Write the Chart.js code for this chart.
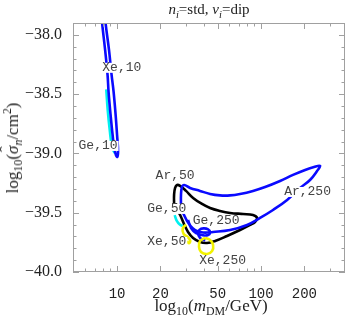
<!DOCTYPE html>
<html>
<head>
<meta charset="utf-8">
<script src="https://cdn.jsdelivr.net/npm/chart.js@4.4.1/dist/chart.umd.min.js"></script>
<style>
  body { margin: 0; background: #fff; }
  #wrap { position: relative; width: 346px; height: 318px; }
  .t { position: absolute; font-family: "Liberation Serif", "DejaVu Serif", serif; color: #222; white-space: nowrap; transform: translate(-50%, -50%); }
  .t sub, .t sup { font-size: 70%; line-height: 0; }
  .hat { position: relative; display: inline-block; }
  .hat b { position: absolute; left: 0.12em; top: -0.42em; font-weight: normal; font-style: normal; }
  #title { left: 209px; top: 9px; font-size: 15px; }
  #xtitle { left: 211px; top: 306px; font-size: 17px; }
  #ytitle { left: 13px; top: 148px; font-size: 17px; transform: translate(-50%, -50%) rotate(-90deg); }
</style>
</head>
<body>
<div id="wrap">
  <canvas id="c"></canvas>
  <div class="t" id="title"><i>n<sub>i</sub></i>=std, <i>ν<sub>i</sub></i>=dip</div>
  <div class="t" id="xtitle">log<sub>10</sub>(<i>m</i><sub>DM</sub>/GeV)</div>
  <div class="t" id="ytitle">log<sub>10</sub>(<span class="hat"><i>σ</i><b>ˆ</b></span><sub><i>n</i></sub>/cm<sup>2</sup>)</div>
</div>
<script>
// axis limits, in log10 units
const xRange = [0.694, 2.583];
const yRange = [-40.0, -37.9];

// tick marks
const xTickMasses = [10, 20, 50, 100, 200];
const xMinorMasses = [6, 7, 8, 9, 30, 40, 60, 70, 80, 90, 300];
const yTicks = [-40.0, -39.5, -39.0, -38.5, -38.0];
const yMinor = [-39.9, -39.8, -39.7, -39.6, -39.4, -39.3, -39.2, -39.1, -38.9, -38.8, -38.7, -38.6, -38.4, -38.3, -38.2, -38.1, -37.9];

// contours [log10 m, log10 sigma]
const xe10 = [[0.882,-37.705],[0.896,-37.899],[0.917,-38.127],[0.934,-38.338],[0.941,-38.481],[0.955,-38.675],[0.969,-38.844],[0.983,-38.970],[1.000,-39.030],
  [1.007,-38.987],[1.000,-38.844],[0.990,-38.675],[0.976,-38.481],[0.962,-38.338],[0.944,-38.127],[0.920,-37.899],[0.906,-37.705]];
const ge10 = [[0.925,-38.460],[0.935,-38.633],[0.949,-38.802],[0.966,-38.954],[0.985,-38.998]];
const ar50 = [[1.396,-39.426],[1.396,-39.350],[1.403,-39.291],[1.417,-39.266],[1.438,-39.274],[1.479,-39.316],[1.528,-39.375],[1.590,-39.426],
  [1.646,-39.460],[1.715,-39.485],[1.785,-39.502],[1.875,-39.511],[1.944,-39.519],[1.972,-39.544],[1.958,-39.578],[1.924,-39.603],[1.854,-39.646],
  [1.764,-39.696],[1.681,-39.738],[1.625,-39.755],[1.576,-39.747],[1.528,-39.713],[1.493,-39.662],[1.465,-39.595],[1.438,-39.519],[1.410,-39.460],[1.396,-39.426]];
const ar250 = [[1.444,-39.443],[1.444,-39.350],[1.451,-39.283],[1.465,-39.266],[1.507,-39.291],[1.576,-39.316],[1.646,-39.342],[1.715,-39.354],
  [1.785,-39.354],[1.854,-39.342],[1.944,-39.316],[2.028,-39.283],[2.132,-39.232],[2.222,-39.181],[2.306,-39.139],[2.368,-39.114],[2.410,-39.105],
  [2.389,-39.148],[2.340,-39.224],[2.271,-39.291],[2.181,-39.392],[2.083,-39.477],[1.993,-39.544],[1.903,-39.603],[1.785,-39.646],[1.667,-39.662],
  [1.597,-39.667],[1.542,-39.646],[1.500,-39.595],[1.465,-39.519],[1.444,-39.443]];
const ge250 = [[1.493,-39.561],[1.514,-39.629],[1.549,-39.672],[1.597,-39.690],[1.632,-39.688],[1.646,-39.665],[1.632,-39.640],[1.600,-39.632],
  [1.572,-39.645],[1.562,-39.675],[1.578,-39.715],[1.612,-39.735]];
const ge50 = [[1.400,-39.520],[1.414,-39.566],[1.436,-39.600],[1.456,-39.610]];
const xe50 = [[1.479,-39.600],[1.456,-39.632],[1.462,-39.679],[1.490,-39.705],[1.508,-39.735],[1.500,-39.758],[1.486,-39.740]];
const xe250 = [[1.611,-39.713],[1.646,-39.730],[1.667,-39.772],[1.660,-39.823],[1.625,-39.848],[1.583,-39.831],[1.569,-39.789],[1.576,-39.738],[1.611,-39.713]];

// curve labels
const labelText = ['Xe,10', 'Ge,10', 'Ar,50', 'Ge,50', 'Ge,250', 'Xe,50', 'Xe,250', 'Ar,250'];
const labelX = [1.033, 0.868, 1.403, 1.345, 1.688, 1.345, 1.733, 2.323];
const labelY = [-38.278, -38.937, -39.190, -39.468, -39.565, -39.747, -39.907, -39.325];

function toXY(arr) { return arr.map(p => ({ x: p[0], y: p[1] })); }

function curve(pts, color, order) {
  return {
    data: toXY(pts),
    borderColor: color,
    borderWidth: 2.6,
    pointRadius: 0,
    showLine: true,
    fill: false,
    tension: 0.4,
    order: order
  };
}

const frameTicks = {
  id: 'frameTicks',
  afterDatasetsDraw(chart) {
    const { ctx, chartArea: a, scales } = chart;
    const xs = scales.x, ys = scales.y;
    ctx.save();
    ctx.strokeStyle = '#a0a0a0';
    ctx.lineWidth = 1;
    ctx.strokeRect(a.left + 0.5, a.top + 0.5, a.right - a.left - 1, a.bottom - a.top - 1);
    ctx.beginPath();
    const vtick = (m, len) => {
      const px = Math.round(xs.getPixelForValue(Math.log10(m))) + 0.5;
      ctx.moveTo(px, a.bottom); ctx.lineTo(px, a.bottom - len);
      ctx.moveTo(px, a.top); ctx.lineTo(px, a.top + len);
    };
    const htick = (v, len) => {
      const py = Math.round(ys.getPixelForValue(v)) + 0.5;
      ctx.moveTo(a.left, py); ctx.lineTo(a.left + len, py);
      ctx.moveTo(a.right, py); ctx.lineTo(a.right - len, py);
    };
    xTickMasses.forEach(m => vtick(m, 6));
    xMinorMasses.forEach(m => vtick(m, 3.5));
    yTicks.forEach(v => htick(v, 6));
    yMinor.forEach(v => htick(v, 3.5));
    ctx.stroke();

    // labels with white boxes
    ctx.font = '13px "Liberation Mono", "DejaVu Sans Mono", monospace';
    ctx.textAlign = 'center';
    ctx.textBaseline = 'middle';
    for (let i = 0; i < labelText.length; i++) {
      const px = xs.getPixelForValue(labelX[i]);
      const py = ys.getPixelForValue(labelY[i]);
      const w = ctx.measureText(labelText[i]).width;
      ctx.fillStyle = '#fff';
      ctx.fillRect(px - w / 2 - 1, py - 5, w + 2, 10);
      ctx.fillStyle = '#444';
      ctx.fillText(labelText[i], px, py);
    }
    ctx.restore();
  }
};

new Chart(document.getElementById('c'), {
  type: 'scatter',
  data: {
    datasets: [
      curve(ge10, '#00f0f0', 5),
      curve(xe10, '#0a0aff', 4),
      curve(ge50, '#00f0f0', 5),
      curve(ar50, '#000000', 3),
      curve(ar250, '#0a0aff', 2),
      curve(ge250, '#0a0aff', 2),
      curve(xe50, '#f2f200', 1),
      curve(xe250, '#f2f200', 1)
    ]
  },
  options: {
    animation: false,
    responsive: true,
    maintainAspectRatio: false,
    layout: { padding: { top: 23, right: 1, left: 0, bottom: 0 } },
    plugins: { legend: { display: false }, tooltip: { enabled: false }, title: { display: false } },
    scales: {
      x: {
        type: 'linear',
        min: xRange[0], max: xRange[1],
        grid: { display: false },
        border: { display: false },
        afterBuildTicks: s => { s.ticks = xTickMasses.map(m => ({ value: Math.log10(m) })); },
        afterFit: s => { s.height = 46; },
        ticks: {
          padding: 6,
          color: '#222',
          font: { family: '"Liberation Mono", monospace', size: 14 },
          maxRotation: 0,
          autoSkip: false,
          callback: v => String(Math.round(Math.pow(10, v)))
        }
      },
      y: {
        type: 'linear',
        min: yRange[0], max: yRange[1],
        grid: { display: false },
        border: { display: false },
        afterBuildTicks: s => { s.ticks = yTicks.map(v => ({ value: v })); },
        afterFit: s => { s.width = 73; },
        ticks: {
          padding: 3,
          color: '#222',
          font: { family: '"Liberation Serif", serif', size: 16 },
          autoSkip: false,
          callback: v => '\u2212' + Math.abs(v).toFixed(1)
        }
      }
    }
  },
  plugins: [frameTicks]
});
</script>
</body>
</html>
